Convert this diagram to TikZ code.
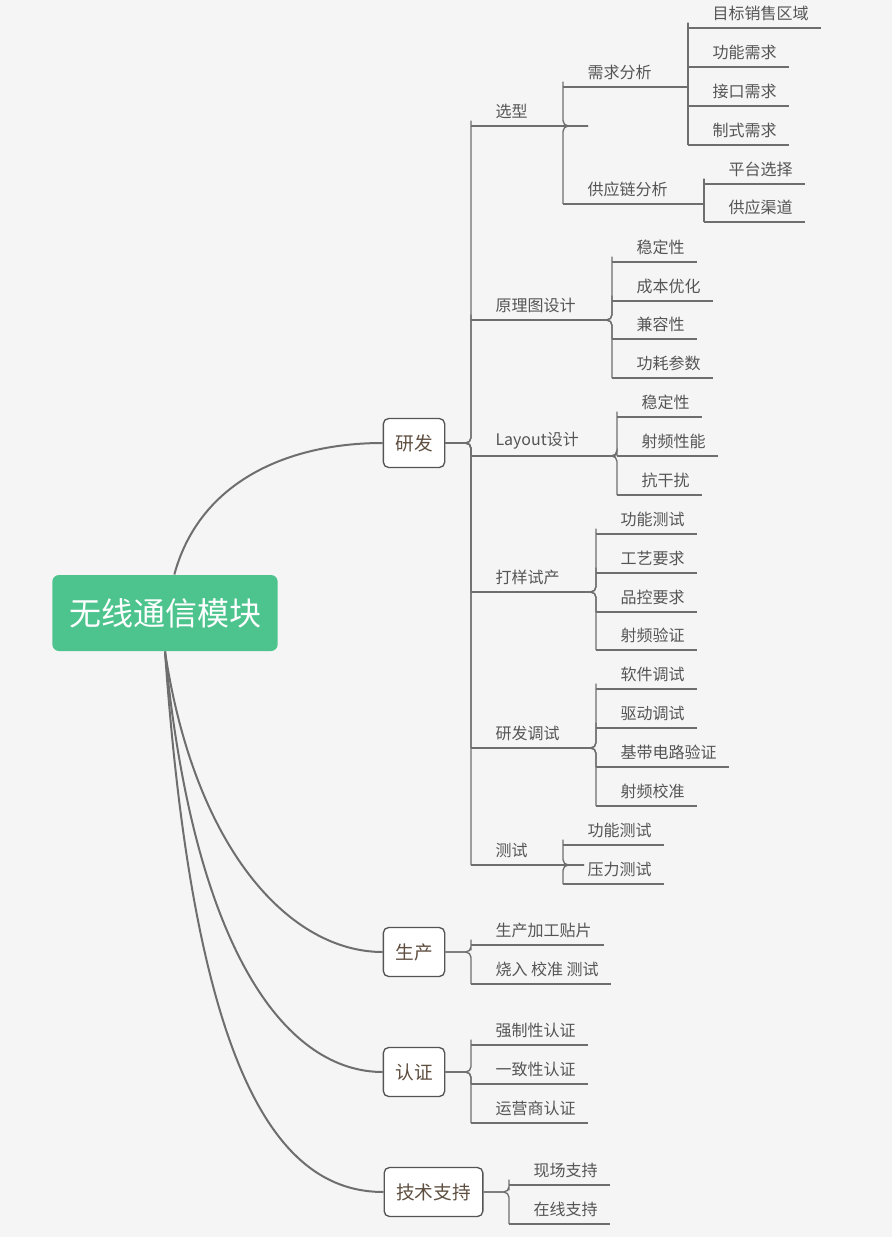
\documentclass[tikz,border=0pt]{standalone}
\usepackage{fontspec}
\setmainfont{Noto Sans CJK SC}
\definecolor{bgc}{HTML}{F5F5F5}
\definecolor{rootc}{HTML}{4DC48D}
\definecolor{linec}{HTML}{6E6E6E}
\definecolor{textc}{HTML}{555555}
\definecolor{topc}{HTML}{5E4E40}
\tikzset{every picture/.style={line width=0.75pt}}
\tikzset{
  leaf/.style={anchor=south west, inner xsep=0pt, inner ysep=5pt, text=textc, font=\fontsize{12}{14}\selectfont,
    append after command={(\tikzlastnode.south west) edge[draw=linec, line width=1pt] (\tikzlastnode.south east)}},
  topic/.style={draw=textc, fill=white, rounded corners=4pt, minimum height=36.75pt, inner xsep=9pt, text=topc, font=\fontsize{14}{16}\selectfont, line width=1pt},
  conn/.style={draw=linec, line width=1pt, rounded corners=4pt},
  branch/.style={draw=linec, line width=1.5pt}
}
\newcommand\mmleaf[4]{\node[leaf] (#1) at (#2,#3) {\hspace*{18pt}#4\hspace*{9pt}};}
\newcommand\mmlink[2]{\draw[conn] (#1.south east) -- (#1.south east -| #2.south west) |- (#2.south west);}
\newcommand\mmbox[2]{\draw[conn] (#1.east) -- (#1.east -| #2.south west) |- (#2.south west);}

\begin{document}
\begin{tikzpicture}[x=0.75pt,y=0.75pt,yscale=-1,xscale=1]
\fill[bgc] (0,0) rectangle (892,1237);
\useasboundingbox (0,0) rectangle (892,1237);

% root
\node[fill=rootc, rounded corners=5pt, minimum width=169pt, minimum height=57pt, text=white, font=\fontsize{24}{28}\selectfont] (root) at (165,613) {无线通信模块};

% topics
\node[topic] (yf) at (414,443) {研发};
\node[topic] (sc) at (414,952) {生产};
\node[topic] (rz) at (414,1072) {认证};
\node[topic] (js) at (433.5,1192) {技术支持};

\draw[branch] ([xshift=7pt]root.north) .. controls (200,480) and (290,443) .. (yf.west);
\draw[branch] (root.south) .. controls (195,850) and (290,952) .. (sc.west);
\draw[branch] (root.south) .. controls (195,960) and (290,1072) .. (rz.west);
\draw[branch] (root.south) .. controls (195,1080) and (280,1192) .. (js.west);

% 研发
\node[leaf] (xx) at (471,126) {\hspace*{18pt}选型\hspace*{45pt}};
\node[leaf] (ylt) at (471,320) {\hspace*{18pt}原理图设计\hspace*{24pt}};
\node[leaf] (lay) at (471,456) {\hspace*{18pt}Layout设计\hspace*{27pt}};
\node[leaf] (dy) at (471,592) {\hspace*{18pt}打样试产\hspace*{18pt}};
\node[leaf] (ts) at (471,748) {\hspace*{18pt}研发调试\hspace*{18pt}};
\node[leaf] (cs) at (471,865) {\hspace*{18pt}测试\hspace*{42pt}};
\foreach \c in {xx,ylt,lay,dy,ts,cs} {\mmbox{yf}{\c}}

% 选型
\node[leaf] (xq) at (563,87) {\hspace*{18pt}需求分析\hspace*{27pt}};
\node[leaf] (gy) at (563,204) {\hspace*{18pt}供应链分析\hspace*{27pt}};
\mmlink{xx}{xq}
\mmlink{xx}{gy}
\mmleaf{mb}{688}{28}{目标销售区域}
\mmleaf{gn}{688}{67}{功能需求}
\mmleaf{jk}{688}{106}{接口需求}
\mmleaf{zs}{688}{145}{制式需求}
\foreach \c in {mb,gn,jk,zs} {\mmlink{xq}{\c}}
\mmleaf{pt}{704}{184}{平台选择}
\mmleaf{qd}{704}{222}{供应渠道}
\foreach \c in {pt,qd} {\mmlink{gy}{\c}}

% 原理图设计
\mmleaf{wd}{612}{262}{稳定性}
\mmleaf{cb}{612}{301}{成本优化}
\mmleaf{jr}{612}{339}{兼容性}
\mmleaf{gh}{612}{378}{功耗参数}
\foreach \c in {wd,cb,jr,gh} {\mmlink{ylt}{\c}}

% Layout设计
\mmleaf{lwd}{617}{417}{稳定性}
\mmleaf{sp}{617}{456}{射频性能}
\mmleaf{kg}{617}{495}{抗干扰}
\foreach \c in {lwd,sp,kg} {\mmlink{lay}{\c}}

% 打样试产
\mmleaf{gc}{596}{534}{功能测试}
\mmleaf{gy2}{596}{573}{工艺要求}
\mmleaf{pk}{596}{612}{品控要求}
\mmleaf{spy}{596}{650}{射频验证}
\foreach \c in {gc,gy2,pk,spy} {\mmlink{dy}{\c}}

% 研发调试
\mmleaf{rj}{596}{689}{软件调试}
\mmleaf{qdt}{596}{728}{驱动调试}
\mmleaf{jd}{596}{767}{基带电路验证}
\mmleaf{spj}{596}{806}{射频校准}
\foreach \c in {rj,qdt,jd,spj} {\mmlink{ts}{\c}}

% 测试
\mmleaf{gnc}{563}{845}{功能测试}
\mmleaf{ylc}{563}{884}{压力测试}
\foreach \c in {gnc,ylc} {\mmlink{cs}{\c}}

% 生产
\mmleaf{tp}{471}{945}{生产加工贴片}
\mmleaf{sr}{471}{984}{烧入 校准 测试}
\foreach \c in {tp,sr} {\mmbox{sc}{\c}}

% 认证
\mmleaf{qz}{471}{1045}{强制性认证}
\mmleaf{yz}{471}{1084}{一致性认证}
\mmleaf{yy}{471}{1123}{运营商认证}
\foreach \c in {qz,yz,yy} {\mmbox{rz}{\c}}

% 技术支持
\mmleaf{xc}{509}{1185}{现场支持}
\mmleaf{zx}{509}{1224}{在线支持}
\foreach \c in {xc,zx} {\mmbox{js}{\c}}

\end{tikzpicture}
\end{document}
